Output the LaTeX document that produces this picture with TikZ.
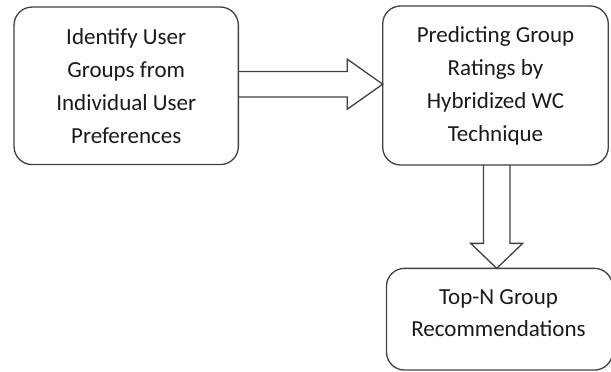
\documentclass[tikz,border=0pt]{standalone}
\usepackage{fontspec}
\setmainfont{Carlito}
\usetikzlibrary{calc}
\definecolor{edge}{HTML}{404040}
\definecolor{ink}{HTML}{1A1A1A}
\begin{document}
\begin{tikzpicture}[x=1pt,y=-1pt,
  box/.style={draw=edge, line width=1.3pt, rounded corners=18pt, outer sep=0pt, inner sep=0pt,
    text=ink, align=center, font=\fontsize{23}{33}\selectfont},
  fat/.style={draw=edge, line width=1.3pt, line join=miter}]
\useasboundingbox (0,0) rectangle (611,372);
\node[box, minimum width=224.3pt, minimum height=157.5pt] (b1) at (126.2,85.8)
  {Identify User\\Groups from\\Individual User\\Preferences};
\node[box, minimum width=225.6pt, minimum height=159pt] (b2) at (495.5,85.5)
  {Predicting Group\\Ratings by\\Hybridized WC\\Technique};
\node[box, minimum width=226pt, minimum height=101.7pt] (b3) at (499.5,319.2) {};
\node[text=ink, align=center, font=\fontsize{23}{32}\selectfont, inner sep=0pt] (b3t) at ($(b3)+(-1,-6)$)
  {Top-N Group\\Recommendations};
% horizontal block arrow
\coordinate (htip) at ($(b2.west)+(0,-1.3)$);
\coordinate (hstart) at (b1.east |- htip);
\draw[fat] ($(hstart)+(0,-12.8)$) -- ($(htip)+(-35.4,-12.8)$) -- ($(htip)+(-35.4,-25)$)
  -- (htip) -- ($(htip)+(-35.4,25)$) -- ($(htip)+(-35.4,12.8)$) -- ($(hstart)+(0,12.8)$);
% vertical block arrow
\coordinate (vtip) at ($(b3.north)+(-2.8,0)$);
\coordinate (vstart) at (vtip |- b2.south);
\draw[fat] ($(vstart)+(-13.3,0)$) -- ($(vtip)+(-13.3,-25)$) -- ($(vtip)+(-26,-25)$)
  -- (vtip) -- ($(vtip)+(26,-25)$) -- ($(vtip)+(13.3,-25)$) -- ($(vstart)+(13.3,0)$);
\end{tikzpicture}
\end{document}
